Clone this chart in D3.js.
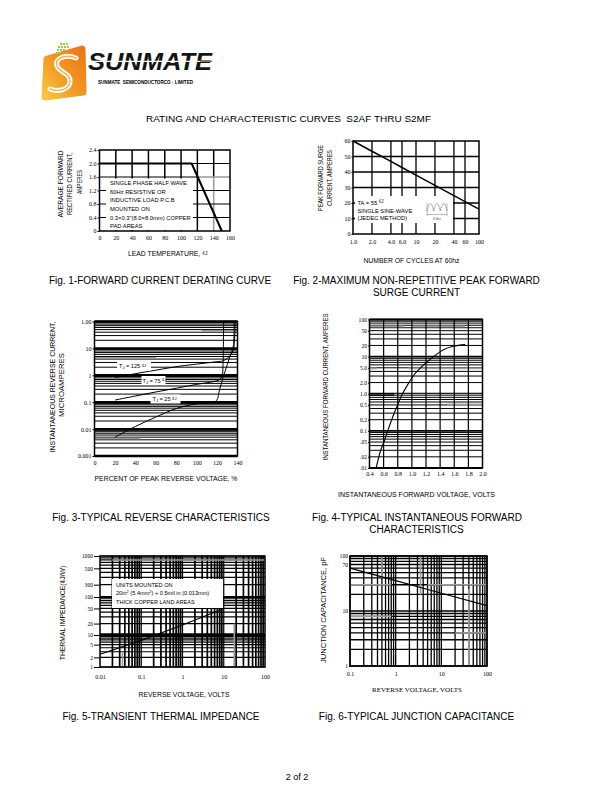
<!DOCTYPE html>
<html><head><meta charset="utf-8">
<script src="https://cdn.jsdelivr.net/npm/d3@7"></script>
<style>body{margin:0;background:#fff}svg{display:block}text{white-space:pre}</style>
</head><body>
<svg id="c" width="610" height="810"></svg>
<script>
// ================= DATA =================
// Fig.1 forward current derating
const fig1TempC = [0, 113, 150];
const fig1Amps = [2.0, 2.0, 0];
const fig1XTicks = [0, 20, 40, 60, 80, 100, 120, 140, 160];
const fig1YTicks = [0, 0.4, 0.8, 1.2, 1.6, 2.0, 2.4];
const fig1YLabels = ["0", "0.4", "0.8", "1.2", "1.6", "2.0", "2.4"];
// Fig.2 peak surge current
const fig2Cycles = [1, 2, 4, 6, 10, 20, 40, 60, 100];
const fig2Surge = [60, 53.4, 46.8, 42.9, 38, 31.4, 24.8, 20.9, 16];
const fig2XTicks = [1, 2, 4, 6, 10, 20, 40, 60, 100];
const fig2XLabels = ["1.0", "2.0", "4.0", "6.0", "10", "20", "40", "60", "100"];
const fig2YTicks = [0, 10, 20, 30, 40, 50, 60];
// Fig.3 reverse characteristics
const fig3Pct125 = [20, 40, 60, 84, 100, 120, 126, 130, 133, 135.7, 137, 137.8];
const fig3Cur125 = [0.82, 1.15, 1.55, 2.2, 2.6, 3.2, 3.45, 4.3, 5.5, 8.2, 19.5, 100];
const fig3Pct75 = [20, 40, 60, 80, 100, 116, 122, 124.8, 125.8, 126.2, 126.4];
const fig3Cur75 = [0.12, 0.17, 0.24, 0.33, 0.46, 0.58, 0.68, 0.9, 2.5, 12, 100];
const fig3Pct25 = [20, 40, 60, 80, 100, 115, 119.5, 122.5, 125.9, 130, 133, 135.7, 136.8];
const fig3Cur25 = [0.005, 0.0125, 0.028, 0.058, 0.088, 0.1, 0.115, 0.3, 0.82, 2.5, 5.5, 10.9, 100];
const fig3XTicks = [0, 20, 40, 60, 80, 100, 120, 140];
const fig3YTicks = [0.001, 0.01, 0.1, 1, 10, 100];
const fig3YLabels = ["0.001", "0.01", "0.1", "1", "10", "1.00"];
// Fig.4 forward characteristics
const fig4Volt = [0.494, 0.551, 0.622, 0.669, 0.73, 0.796, 0.858, 0.938, 1.023, 1.117, 1.212, 1.33, 1.448, 1.59, 1.755];
const fig4Amps = [0.01, 0.027, 0.062, 0.115, 0.24, 0.49, 0.92, 1.72, 3.1, 4.9, 7.1, 10.8, 15.4, 19, 21];
const fig4XTicks = [0.4, 0.6, 0.8, 1.0, 1.2, 1.4, 1.6, 1.8, 2.0];
const fig4XLabels = ["0.4", "0.6", "0.8", "1.0", "1.2", "1.4", "1.6", "1.8", "2.0"];
const fig4YTicks = [100, 50, 20, 10, 5, 2, 1, 0.5, 0.2, 0.1, 0.05, 0.02, 0.01];
const fig4YLabels = ["100", "50", "20", "10", "5.0", "2.0", "1.0", "0.5", "0.2", "0.1", ".05", ".02", ".01"];
// Fig.5 transient thermal impedance
const fig5Volt = [0.01, 0.1, 1, 10];
const fig5Imp = [2.5, 6.8, 18.4, 50];
const fig5XTicks = [0.01, 0.1, 1, 10, 100];
const fig5XLabels = ["0.01", "0.1", "1", "10", "100"];
const fig5YTicks = [1, 2, 5, 10, 20, 50, 100, 200, 500, 1000];
const fig5YLabels = ["1", "2", "5", "10", "20", "50", "100", "300", "500", "1000"];
// Fig.6 junction capacitance
const fig6Volt = [0.1, 1, 10, 100];
const fig6Cap = [60, 35.6, 21, 12.5];
const fig6XTicks = [0.1, 1, 10, 100];
const fig6XLabels = ["0.1", "1", "10", "100"];
const fig6YTicks = [1, 10, 70, 100];
const fig6YLabels = ["1", "10", "70", "100"];

// ================= HELPERS =================
const SERIF = "'Liberation Serif','Times New Roman',Times,serif";
const SANS = "'Liberation Sans',Arial,Helvetica,sans-serif";
const svg = d3.select("#c");
svg.append("rect").attr("width", 610).attr("height", 810).attr("fill", "#fff");

function logMinors(lo, hi) {
  const out = [];
  const e0 = Math.round(Math.log10(lo)), e1 = Math.round(Math.log10(hi));
  for (let e = e0; e < e1; e++) for (let k = 1; k < 10; k++) out.push(+(k * Math.pow(10, e)).toPrecision(3));
  out.push(hi);
  return out;
}
const isDecade = d => Math.abs(Math.log10(d) - Math.round(Math.log10(d))) < 1e-6;
function ext(s) { return d3.extent(s.range()); }
function hGrid(g, x, y, vals, w, color) {
  const [a, b] = ext(x);
  g.append("g").selectAll("line").data(vals).join("line")
    .attr("x1", a).attr("x2", b).attr("y1", d => y(d)).attr("y2", d => y(d))
    .attr("stroke", color || "#000").attr("stroke-width", w);
}
function vGrid(g, x, y, vals, w, color) {
  const [a, b] = ext(y);
  g.append("g").selectAll("line").data(vals).join("line")
    .attr("y1", a).attr("y2", b).attr("x1", d => x(d)).attr("x2", d => x(d))
    .attr("stroke", color || "#000").attr("stroke-width", w);
}
function segH(g, x, y, v, xa, xb, w, color) {
  g.append("line").attr("x1", x(xa)).attr("x2", x(xb)).attr("y1", y(v)).attr("y2", y(v))
    .attr("stroke", color).attr("stroke-width", w);
}
function segV(g, x, y, v, ya, yb, w, color) {
  g.append("line").attr("y1", y(ya)).attr("y2", y(yb)).attr("x1", x(v)).attr("x2", x(v))
    .attr("stroke", color).attr("stroke-width", w);
}
function frame(g, x, y, w) {
  const [a, b] = ext(x), [c, d] = ext(y);
  g.append("rect").attr("x", a).attr("y", c).attr("width", b - a).attr("height", d - c)
    .attr("fill", "none").attr("stroke", "#000").attr("stroke-width", w);
}
function leftAxis(g, x0, y, vals, labels, size, fs) {
  const ax = g.append("g").attr("transform", `translate(${x0},0)`)
    .call(d3.axisLeft(y).tickValues(vals).tickFormat((d, i) => labels[i]).tickSize(size).tickPadding(1));
  ax.select(".domain").remove();
  ax.attr("font-family", SERIF).attr("font-size", fs || 6);
  ax.selectAll("line").attr("stroke-width", 1);
}
function bottomAxis(g, y0, x, vals, labels, pad, fs, font) {
  const ax = g.append("g").attr("transform", `translate(0,${y0})`)
    .call(d3.axisBottom(x).tickValues(vals).tickFormat((d, i) => labels[i]).tickSize(0).tickPadding(pad));
  ax.select(".domain").remove();
  ax.attr("font-family", font || SERIF).attr("font-size", fs || 6);
}
function txt(g, x, y, s, fs, opts) {
  opts = opts || {};
  const t = g.append("text").attr("x", x).attr("y", y).attr("font-family", opts.font || SANS)
    .attr("font-size", fs).attr("fill", "#000").attr("text-anchor", opts.anchor || "start").text(s);
  if (opts.len) t.attr("textLength", opts.len).attr("lengthAdjust", "spacingAndGlyphs");
  return t;
}
function vtxt(g, x, y, s, fs, len, font) {
  const t = g.append("text").attr("transform", `translate(${x},${y}) rotate(-90)`)
    .attr("text-anchor", "middle").attr("font-family", font || SANS).attr("font-size", fs).text(s);
  if (len) t.attr("textLength", len).attr("lengthAdjust", "spacingAndGlyphs");
  return t;
}
function plotLine(g, x, y, xs, ys, w, curve) {
  g.append("path").datum(d3.zip(xs, ys))
    .attr("d", d3.line().x(d => x(d[0])).y(d => y(d[1])).curve(curve || d3.curveLinear))
    .attr("fill", "none").attr("stroke", "#000").attr("stroke-width", w).attr("stroke-linejoin", "round");
}
function whiteBox(g, x, y, w, h) {
  g.append("rect").attr("x", x).attr("y", y).attr("width", w).attr("height", h).attr("fill", "#fff");
}

// ================= LOGO =================
const defs = svg.append("defs");
const grad = defs.append("linearGradient").attr("id", "og").attr("x1", "0").attr("y1", "1").attr("x2", "1").attr("y2", "0");
grad.append("stop").attr("offset", "0").attr("stop-color", "#f8c640");
grad.append("stop").attr("offset", "0.45").attr("stop-color", "#f39a22");
grad.append("stop").attr("offset", "1").attr("stop-color", "#ea7716");
const logo = svg.append("g");
logo.append("path").attr("d", "M47,59 L82,49 L83,92 L45,97 Z")
  .attr("fill", "url(#og)").attr("stroke", "url(#og)").attr("stroke-width", 7).attr("stroke-linejoin", "round");
const dots = [[60, 43], [63, 43], [66, 43], [58, 46], [61, 46], [64, 46], [67, 46], [57, 49], [60, 49], [63, 49], [56, 52], [59, 52]];
logo.selectAll(".dot").data(dots).join("rect").attr("x", d => d[0]).attr("y", d => d[1])
  .attr("width", 2).attr("height", 2).attr("fill", "#9cc94a");
logo.append("path").attr("d", "M76,58 C66,54 54,58 57,66 C60,73 71,73 70,82 C69,90 58,92 50,89")
  .attr("fill", "none").attr("stroke", "#fff").attr("stroke-width", 5).attr("stroke-linecap", "round");
logo.append("path").attr("d", "M76,58 C66,54 54,58 57,66 C60,73 71,73 70,82 C69,90 58,92 50,89")
  .attr("fill", "none").attr("stroke", "#f6b04a").attr("stroke-width", 1.4).attr("stroke-linecap", "round");
txt(logo, 88, 70, "SUNMATE", 23, { len: 124 }).attr("font-weight", "bold").attr("font-style", "italic").attr("fill", "#141414");
logo.append("line").attr("x1", 86).attr("x2", 213).attr("y1", 61.3).attr("y2", 61.3).attr("stroke", "#fff").attr("stroke-width", 1.3);
logo.append("line").attr("x1", 200).attr("x2", 212).attr("y1", 61.3).attr("y2", 61.3).attr("stroke", "#e0502a").attr("stroke-width", 1.3);
txt(logo, 98, 83.8, "SUNMATE  SEMICONDUCTORCO · LIMITED", 5, { len: 95 }).attr("font-weight", "bold");

// ================= PAGE TEXT =================
txt(svg, 288.5, 121.5, "RATING AND CHARACTERISTIC CURVES  S2AF THRU S2MF", 9.8, { anchor: "middle", len: 285 });
txt(svg, 297, 780, "2 of 2", 9, { anchor: "middle" });

// ================= FIG 1 =================
const g1 = svg.append("g");
const x1 = d3.scaleLinear().domain([0, 160]).range([99.5, 230]);
const y1 = d3.scaleLinear().domain([0, 2.4]).range([231, 150]);
vGrid(g1, x1, y1, [20, 40, 60, 80, 100, 120], 1.5);
segV(g1, x1, y1, 140, 1.6, 2.4, 1.5, "#000");
segV(g1, x1, y1, 140, 0, 1.6, 1.5, "#9a9a9a");
hGrid(g1, x1, y1, [0.4, 0.8, 1.2, 2.0], 1);
segH(g1, x1, y1, 1.6, 0, 120, 1, "#000");
segH(g1, x1, y1, 1.6, 120, 160, 1.5, "#9a9a9a");
whiteBox(g1, 106, 178.5, 87, 51.5);
const f1Notes = ["SINGLE PHASE HALF WAVE", "60Hz RESISTIVE OR", "INDUCTIVE LOAD P.C.B", "MOUNTED ON", "0.3×0.3\"(8.0×8.0mm) COPPER", "PAD AREAS"];
f1Notes.forEach((s, i) => txt(g1, 110, 185.2 + i * 8.6, s, 5.8));
plotLine(g1, x1, y1, fig1TempC, fig1Amps, 2);
frame(g1, x1, y1, 1.5);
leftAxis(g1, 99.5, y1, fig1YTicks, fig1YLabels, 2);
bottomAxis(g1, 231, x1, fig1XTicks, fig1XTicks.map(String), 5.2);
vtxt(g1, 62.5, 184, "AVERAGE FORWARD", 6.8, 67);
vtxt(g1, 72, 184, "RECTIFIED CURRENT,", 6.8, 62);
vtxt(g1, 81.5, 182, "AMPERES", 6.8, 24);
const t1 = txt(g1, 128, 256, "LEAD TEMPERATURE, ", 6.8);
t1.append("tspan").attr("font-size", 5).attr("dy", -1.5).text("¢J");
txt(svg, 160, 283.5, "Fig. 1-FORWARD CURRENT DERATING CURVE", 10, { anchor: "middle" });

// ================= FIG 2 =================
const g2 = svg.append("g");
const x2 = d3.scaleLog().domain([1, 100]).range([353, 479]);
const y2 = d3.scaleLinear().domain([0, 60]).range([234, 141]);
vGrid(g2, x2, y2, [2, 4, 6, 10, 20, 40, 60], 1.3);
hGrid(g2, x2, y2, [10, 20, 30, 40, 50], 1.3);
whiteBox(g2, 355, 196, 98, 27);
const ta = txt(g2, 357.5, 204.8, "TA = 55 ", 5.8);
ta.append("tspan").attr("font-size", 4.5).attr("dy", -1.5).text("¢J");
txt(g2, 357.5, 212.6, "SINGLE SINE-WAVE", 5.8);
txt(g2, 357.5, 220.4, "(JEDEC METHOD)", 5.8);
g2.append("path").attr("d", "M427,211 Q430.3,196 433.7,211 Q437,196 440.3,211 Q443.7,196 447,211")
  .attr("fill", "none").attr("stroke", "#333").attr("stroke-width", 0.6).attr("stroke-dasharray", "1.2,0.6");
g2.append("path").attr("d", "M427,203 V216 M447,203 V216 M427,214.5 H447")
  .attr("fill", "none").attr("stroke", "#555").attr("stroke-width", 0.4);
txt(g2, 437, 219.5, "8.3ms", 2.8, { anchor: "middle" }).attr("fill", "#444");
plotLine(g2, x2, y2, fig2Cycles, fig2Surge, 1.5);
frame(g2, x2, y2, 1.5);
leftAxis(g2, 353, y2, fig2YTicks, fig2YTicks.map(String), 1.5);
bottomAxis(g2, 234, x2, fig2XTicks, fig2XLabels, 6.2);
vtxt(g2, 322.5, 178, "PEAK FORWARD SURGE", 6.8, 66);
vtxt(g2, 332, 178, "CURRENT, AMPERES", 6.8, 56);
txt(g2, 411.5, 262.5, "NUMBER OF CYCLES AT 60hz", 6.8, { anchor: "middle" });
txt(svg, 416.5, 283.5, "Fig. 2-MAXIMUM NON-REPETITIVE PEAK FORWARD", 10, { anchor: "middle" });
txt(svg, 416.5, 295.5, "SURGE CURRENT", 10, { anchor: "middle" });

// ================= FIG 3 =================
const g3 = svg.append("g");
const x3 = d3.scaleLinear().domain([0, 140]).range([94.5, 237.5]);
const y3 = d3.scaleLog().domain([0.001, 100]).range([456, 321.5]);
hGrid(g3, x3, y3, logMinors(0.001, 100), d => isDecade(d) ? 2.4 : 1);
segH(g3, x3, y3, 45, 105, 140, 1.6, "#9a9a9a");
segH(g3, x3, y3, 4.5, 0, 60, 1.6, "#9a9a9a");
segH(g3, x3, y3, 0.0045, 0, 45, 1.6, "#9a9a9a");
const crv = d3.curveCatmullRom.alpha(0.5);
plotLine(g3, x3, y3, fig3Pct125, fig3Cur125, 1, crv);
plotLine(g3, x3, y3, fig3Pct75, fig3Cur75, 1, crv);
plotLine(g3, x3, y3, fig3Pct25, fig3Cur25, 1, crv);
function tjLabel(g, x, y, val) {
  const t = g.append("text").attr("x", x).attr("y", y).attr("font-family", SANS).attr("font-size", 5.6);
  t.append("tspan").text("T");
  t.append("tspan").attr("font-size", 4).attr("dy", 1.4).text("J");
  t.append("tspan").attr("dy", -1.4).text(" = " + val + " ");
  t.append("tspan").attr("font-size", 4.2).attr("dy", -1.5).text("¢J");
}
whiteBox(g3, 117, 361.5, 34, 9); tjLabel(g3, 119, 368, "125");
whiteBox(g3, 141.5, 376, 24, 9); tjLabel(g3, 142.5, 382.5, "75");
whiteBox(g3, 150.5, 394.5, 30, 9); tjLabel(g3, 152.5, 401, "25");
frame(g3, x3, y3, 1.5);
leftAxis(g3, 94.5, y3, fig3YTicks, fig3YLabels, 2);
bottomAxis(g3, 456, x3, fig3XTicks, fig3XTicks.map(String), 5);
vtxt(g3, 55, 387, "INSTANTANEOUS REVERSE CURRENT,", 6.8, 131);
vtxt(g3, 64, 385, "MICROAMPERES", 6.8, 64);
txt(g3, 166, 480.5, "PERCENT OF PEAK REVERSE VOLTAGE, %", 6.8, { anchor: "middle", len: 143 });
txt(svg, 161, 520.5, "Fig. 3-TYPICAL REVERSE CHARACTERISTICS", 10, { anchor: "middle" });

// ================= FIG 4 =================
const g4 = svg.append("g");
const x4 = d3.scaleLinear().domain([0.4, 2.0]).range([369.5, 482.5]);
const y4 = d3.scaleLog().domain([0.01, 100]).range([468, 319.5]);
hGrid(g4, x4, y4, logMinors(0.01, 100), d => isDecade(d) ? 1.8 : 1);
segH(g4, x4, y4, 65, 0.4, 0.9, 1.8, "#a0a0a0");
segH(g4, x4, y4, 65, 1.0, 1.75, 1.8, "#a0a0a0");
segH(g4, x4, y4, 4.8, 0.4, 0.5, 1.8, "#a0a0a0");
segH(g4, x4, y4, 4.8, 0.95, 2.0, 1.8, "#a0a0a0");
segH(g4, x4, y4, 0.95, 0.75, 2.0, 1.6, "#a0a0a0");
segH(g4, x4, y4, 0.52, 1.5, 2.0, 1.6, "#a0a0a0");
vGrid(g4, x4, y4, [0.6, 0.8, 1.0, 1.2, 1.4, 1.6, 1.8], 1.2);
plotLine(g4, x4, y4, fig4Volt, fig4Amps, 1.1, d3.curveMonotoneX);
frame(g4, x4, y4, 1.5);
leftAxis(g4, 369.5, y4, fig4YTicks, fig4YLabels, 1.5, 5.6);
bottomAxis(g4, 468, x4, fig4XTicks, fig4XLabels, 4);
vtxt(g4, 327.5, 387, "INSTANTANEOUS FORWARD CURRENT, AMPERES", 6.8, 147);
txt(g4, 416.5, 497, "INSTANTANEOUS FORWARD VOLTAGE, VOLTS", 6.8, { anchor: "middle", len: 157 });
txt(svg, 417, 520.5, "Fig. 4-TYPICAL INSTANTANEOUS FORWARD", 10, { anchor: "middle" });
txt(svg, 416.5, 532.5, "CHARACTERISTICS", 10, { anchor: "middle" });

// ================= FIG 5 =================
const g5 = svg.append("g");
const x5 = d3.scaleLog().domain([0.01, 100]).range([100, 265]);
const y5 = d3.scaleLog().domain([1, 10, 100, 1000]).range([667, 635, 597, 556]);
hGrid(g5, x5, y5, logMinors(1, 1000), d => d === 10 ? 3.4 : (d === 100 ? 2 : 1.2));
vGrid(g5, x5, y5, logMinors(0.01, 100).filter(d => !isDecade(d)), 1.7);
vGrid(g5, x5, y5, [0.1, 1, 10], 1.2);
segV(g5, x5, y5, 0.035, 1, 3, 1.6, "#9a9a9a");
segV(g5, x5, y5, 18, 1, 20, 1.6, "#9a9a9a");
segH(g5, x5, y5, 800, 0.02, 100, 1.6, "#9a9a9a");
whiteBox(g5, 112, 579, 111, 29);
txt(g5, 116, 586.5, "UNITS MOUNTED ON", 5.6);
const t5 = txt(g5, 116, 595.3, "20in", 5.6);
t5.append("tspan").attr("font-size", 4).attr("dy", -2).text("2");
t5.append("tspan").attr("dy", 2).text(" (5.4mm");
t5.append("tspan").attr("font-size", 4).attr("dy", -2).text("2");
t5.append("tspan").attr("dy", 2).text(") + 0.5mil in (0.013mm)");
txt(g5, 116, 604.2, "THICK COPPER LAND AREAS", 5.6);
plotLine(g5, x5, y5, fig5Volt, fig5Imp, 1.1);
frame(g5, x5, y5, 1.5);
leftAxis(g5, 100, y5, fig5YTicks, fig5YLabels, 6, 5.6);
bottomAxis(g5, 667, x5, fig5XTicks, fig5XLabels, 7.5);
const v5 = vtxt(g5, 65, 613, "THERMAL IMPEDANCE(", 6.8, null);
v5.append("tspan").text("¢J/W)");
txt(g5, 184, 696.5, "REVERSE VOLTAGE, VOLTS", 6.8, { anchor: "middle" });
txt(svg, 161, 719.5, "Fig. 5-TRANSIENT THERMAL IMPEDANCE", 10, { anchor: "middle" });

// ================= FIG 6 =================
const g6 = svg.append("g");
const x6 = d3.scaleLog().domain([0.1, 100]).range([350, 487]);
const y6 = d3.scaleLog().domain([1, 100]).range([666, 556]);
hGrid(g6, x6, y6, logMinors(1, 100), 1.3);
vGrid(g6, x6, y6, logMinors(0.1, 100), 1.3);
segV(g6, x6, y6, 0.5, 40, 100, 1.6, "#9a9a9a");
segV(g6, x6, y6, 3.5, 20, 100, 1.6, "#9a9a9a");
segV(g6, x6, y6, 40, 1, 25, 1.6, "#9a9a9a");
segH(g6, x6, y6, 30, 0.1, 0.8, 1.6, "#9a9a9a");
segH(g6, x6, y6, 30, 5, 100, 1.6, "#9a9a9a");
segH(g6, x6, y6, 8, 0.1, 0.8, 1.6, "#9a9a9a");
segH(g6, x6, y6, 4, 20, 100, 1.6, "#9a9a9a");
plotLine(g6, x6, y6, fig6Volt, fig6Cap, 1.2);
frame(g6, x6, y6, 1.5);
leftAxis(g6, 350, y6, fig6YTicks, fig6YLabels, 1, 5.6);
bottomAxis(g6, 666, x6, fig6XTicks, fig6XLabels, 5.5);
vtxt(g6, 326, 610, "JUNCTION CAPACITANCE, pF", 6.8, 106);
txt(g6, 417, 692, "REVERSE VOLTAGE, VOLTS", 6.5, { anchor: "middle", font: SERIF, len: 90 });
txt(svg, 416.5, 719.5, "Fig. 6-TYPICAL JUNCTION CAPACITANCE", 10, { anchor: "middle" });
</script>
</body></html>
